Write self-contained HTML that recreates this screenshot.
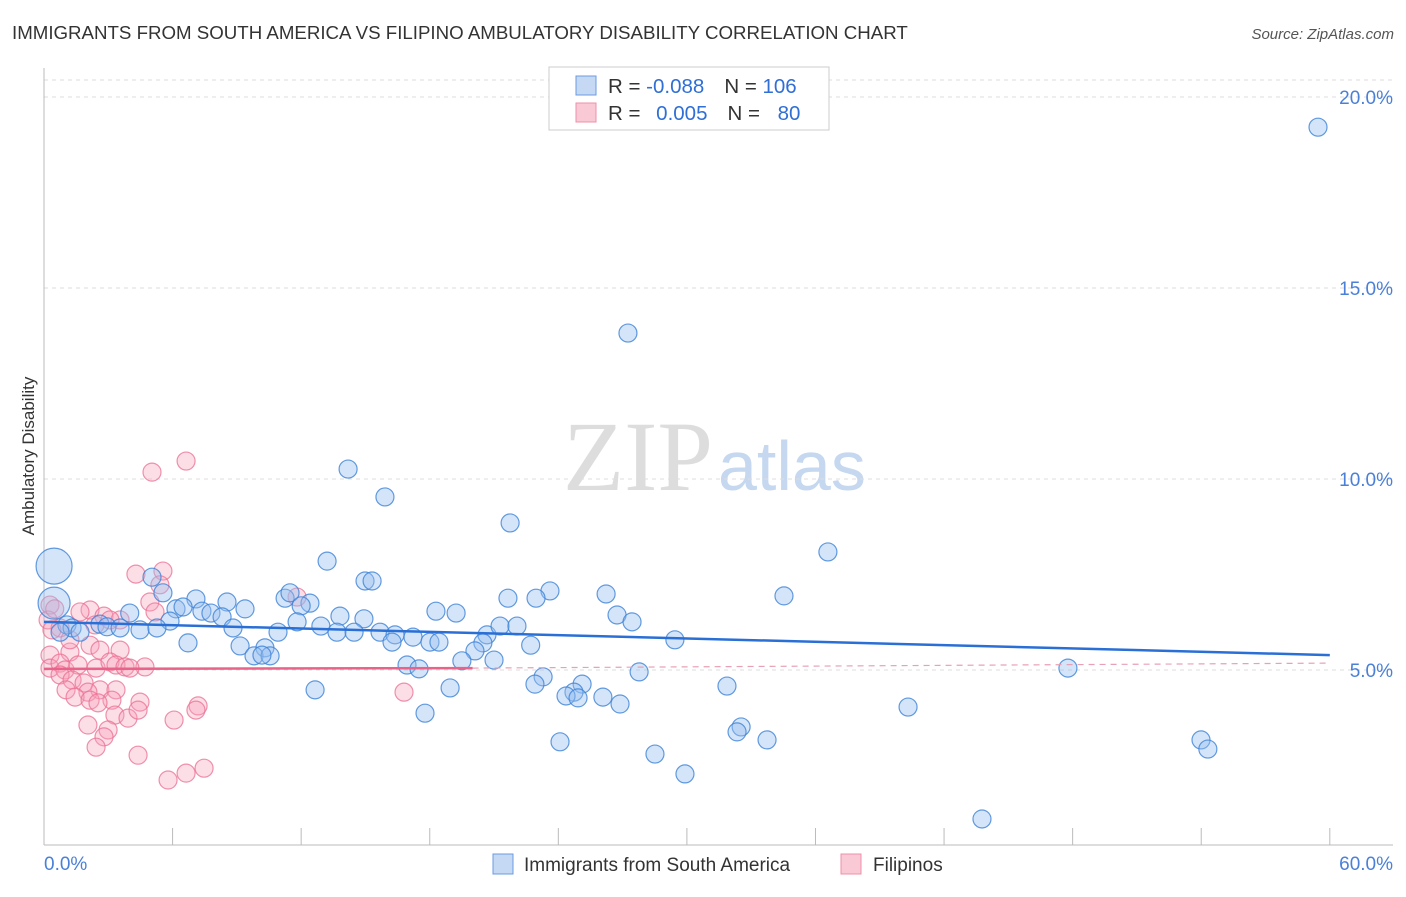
<!DOCTYPE html>
<html><head><meta charset="utf-8"><style>
body{margin:0;background:#fff;font-family:"Liberation Sans",sans-serif}
svg text{font-family:"Liberation Sans",sans-serif}
</style></head><body>
<svg id="c" width="1406" height="892">
<text x="12" y="39" font-size="18.7" fill="#333">IMMIGRANTS FROM SOUTH AMERICA VS FILIPINO AMBULATORY DISABILITY CORRELATION CHART</text>
<text x="1394" y="39" font-size="15" fill="#555" text-anchor="end" font-style="italic">Source: ZipAtlas.com</text>
<text x="713" y="490" font-size="100" fill="#ddd" text-anchor="end" style="font-family:'Liberation Serif',serif">ZIP</text>
<text x="718" y="490" font-size="70" fill="#c5d8ef">atlas</text>
<text transform="translate(34,456) rotate(-90)" font-size="17" fill="#333" text-anchor="middle">Ambulatory Disability</text>
<g id="grid"></g><g id="marks"></g>
<g>
<rect x="549" y="67" width="280" height="63" fill="#fff" stroke="#ccc"/>
<rect x="576" y="76" width="20" height="19" fill="#c5d9f5" stroke="#6a9be0"/>
<rect x="576" y="103" width="20" height="19" fill="#f9c9d6" stroke="#ee90aa"/>
<text x="608" y="93" font-size="20.5" fill="#333">R = <tspan fill="#2f6fd6">-0.088</tspan><tspan dx="20">N = </tspan><tspan fill="#2f6fd6">106</tspan></text>
<text x="608" y="120" font-size="20.5" fill="#333">R = <tspan fill="#2f6fd6" dx="10">0.005</tspan><tspan dx="20">N = </tspan><tspan fill="#2f6fd6" dx="12">80</tspan></text>
</g>
<g>
<rect x="493" y="854" width="20" height="20" fill="#c5d9f5" stroke="#6a9be0"/>
<text x="524" y="871" font-size="19" fill="#333">Immigrants from South America</text>
<rect x="841" y="854" width="20" height="20" fill="#f9c9d6" stroke="#ee90aa"/>
<text x="873" y="871" font-size="19" fill="#333">Filipinos</text>
</g>
</svg>
<script>
const yTicks=[5,10,15,20];
const yTickLabels=["5.0%","10.0%","15.0%","20.0%"];
const xTicks=[0,6,12,18,24,30,36,42,48,54,60];
const blueX=[59.45,27.25,14.19,15.91,21.75,36.58,13.21,5.04,14.98,15.31,23.61,34.53,26.23,21.65,22.96,5.55,7.09,8.54,11.25,11.48,12.41,12.0,9.38,4.0,6.16,6.49,7.37,7.79,8.31,18.29,19.23,13.81,14.93,26.74,27.44,11.81,5.88,8.82,1.07,1.31,1.68,0.75,2.61,2.94,3.55,4.48,5.27,10.92,12.92,13.67,14.47,15.68,16.38,16.24,17.22,18.01,18.43,20.67,21.28,22.07,20.48,22.71,29.44,9.15,6.72,10.31,9.8,10.55,10.17,20.11,21.0,19.5,16.94,17.5,47.78,27.77,23.29,22.91,12.65,18.95,25.11,24.73,24.36,26.08,26.88,31.87,24.92,40.32,17.78,32.53,32.34,33.74,24.08,53.99,54.31,28.51,29.91,43.77,0.47,0.47];
const blueY=[19.21,13.82,10.26,9.53,8.85,8.09,7.85,7.43,7.33,7.33,7.07,6.94,6.99,6.88,6.88,7.02,6.86,6.78,6.88,7.02,6.75,6.68,6.60,6.49,6.60,6.65,6.54,6.49,6.39,6.54,6.49,6.41,6.34,6.44,6.26,6.26,6.28,6.10,6.18,6.10,5.99,5.99,6.20,6.13,6.10,6.05,6.10,5.99,6.15,5.99,5.99,5.99,5.92,5.73,5.86,5.73,5.73,5.92,6.15,6.15,5.71,5.65,5.79,5.63,5.71,5.58,5.37,5.37,5.39,5.50,5.26,5.24,5.13,5.03,5.05,4.95,4.82,4.63,4.48,4.53,4.63,4.42,4.32,4.29,4.11,4.58,4.27,4.03,3.87,3.51,3.38,3.17,3.12,3.17,2.93,2.80,2.28,1.10,7.72,6.75];
const blueR=[9,9,9,9,9,9,9,9,9,9,9,9,9,9,9,9,9,9,9,9,9,9,9,9,9,9,9,9,9,9,9,9,9,9,9,9,9,9,9,9,9,9,9,9,9,9,9,9,9,9,9,9,9,9,9,9,9,9,9,9,9,9,9,9,9,9,9,9,9,9,9,9,9,9,9,9,9,9,9,9,9,9,9,9,9,9,9,9,9,9,9,9,9,9,9,9,9,9,18,16];
const pinkX=[5.04,6.63,4.29,5.55,5.41,4.94,5.18,2.15,2.8,1.68,3.55,11.81,0.28,0.19,0.75,2.38,2.15,2.61,3.55,1.21,0.28,0.28,0.75,0.98,1.59,2.43,3.08,3.36,3.78,4.71,4.01,0.75,1.31,1.87,2.61,1.03,2.05,1.45,3.36,3.17,2.15,2.52,4.48,3.31,3.92,4.39,7.19,7.09,2.05,2.99,2.8,2.43,6.07,4.39,6.63,5.79,7.47,16.8,3.08,1.21,0.37,0.5];
const pinkY=[10.18,10.47,7.51,7.59,7.23,6.78,6.52,6.57,6.41,6.52,6.31,6.91,6.70,6.31,6.10,6.18,5.65,5.52,5.52,5.47,5.39,5.05,5.18,5.0,5.13,5.05,5.21,5.13,5.08,5.08,5.05,4.87,4.74,4.66,4.48,4.48,4.42,4.29,4.48,4.21,4.21,4.14,4.16,3.82,3.74,3.95,4.06,3.95,3.56,3.43,3.25,2.98,3.69,2.77,2.30,2.12,2.43,4.42,6.31,5.79,6.05,6.6];
const blueTrend=[[0,6.26],[60,5.39]];
const pinkTrend=[[0,5.03],[20,5.05]];
const pinkDash=[[20,5.05],[60,5.18]];
const X=v=>44+v*21.43, Y=v=>861-v*38.2;
const NS="http://www.w3.org/2000/svg";
function mk(t,a,p){const e=document.createElementNS(NS,t);for(const k in a)e.setAttribute(k,a[k]);p.appendChild(e);return e;}
const g=document.getElementById('grid'), m=document.getElementById('marks');
mk('line',{x1:44,y1:80,x2:1393,y2:80,stroke:'#ddd','stroke-dasharray':'4,4'},g);
yTicks.forEach((t,i)=>{
 const l=mk('line',{x1:44,y1:Y(t),x2:1393,y2:Y(t),stroke:'#ddd','stroke-dasharray':'4,4'},g);
 
 
 const tx=mk('text',{x:1393,y:Y(t)+7,'font-size':19,fill:'#4a80d8','text-anchor':'end'},g);
 tx.textContent=yTickLabels[i];
 
 
});
const ya=mk('line',{x1:44,y1:68,x2:44,y2:845,stroke:'#bbb'},g);


const xa=mk('line',{x1:44,y1:845,x2:1393,y2:845,stroke:'#bbb'},g);


xTicks.forEach(t=>{const l=mk('line',{x1:X(t),y1:828,x2:X(t),y2:845,stroke:'#bbb'},g);
 
 });
const x0=mk('text',{x:44,y:870,'font-size':19,fill:'#4a80d8'},g);x0.textContent='0.0%';


const x1=mk('text',{x:1393,y:870,'font-size':19,fill:'#4a80d8','text-anchor':'end'},g);x1.textContent='60.0%';


pinkX.forEach((v,i)=>{const c=mk('circle',{cx:X(v),cy:Y(pinkY[i]),r:9,fill:'rgba(245,160,185,0.35)',stroke:'rgba(235,110,145,0.75)','stroke-width':1.2},m);
 
 });
blueX.forEach((v,i)=>{const c=mk('circle',{cx:X(v),cy:Y(blueY[i]),r:blueR[i],fill:'rgba(150,190,240,0.4)',stroke:'rgba(60,130,215,0.8)','stroke-width':1.2},m);
 
 });
const pd=mk('line',{x1:X(pinkDash[0][0]),y1:Y(pinkDash[0][1]),x2:X(pinkDash[1][0]),y2:Y(pinkDash[1][1]),stroke:'#e8a0b4','stroke-dasharray':'6,5','stroke-width':1.2},m);


const pt=mk('line',{x1:X(pinkTrend[0][0]),y1:Y(pinkTrend[0][1]),x2:X(pinkTrend[1][0]),y2:Y(pinkTrend[1][1]),stroke:'#e8628a','stroke-width':2.5},m);


const bt=mk('line',{x1:X(blueTrend[0][0]),y1:Y(blueTrend[0][1]),x2:X(blueTrend[1][0]),y2:Y(blueTrend[1][1]),stroke:'#2a6fd6','stroke-width':2.5},m);


</script>
</body></html>
